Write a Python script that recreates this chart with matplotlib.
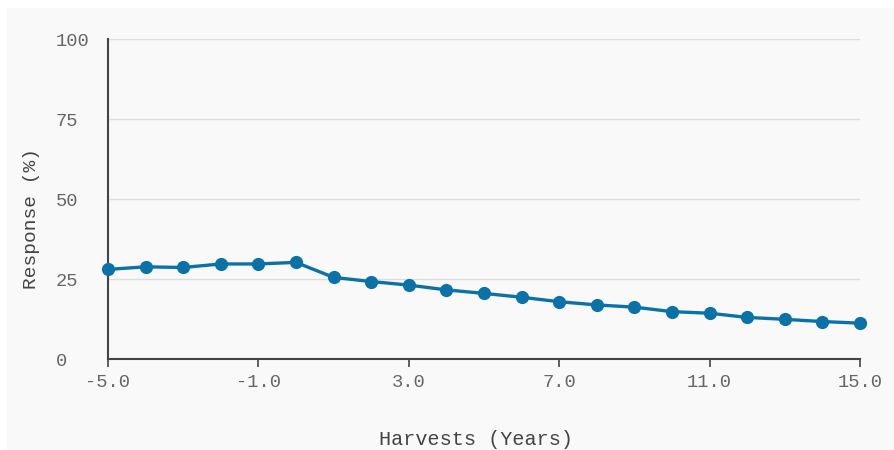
import matplotlib
matplotlib.use("Agg")
import matplotlib.pyplot as plt
from matplotlib.patches import Rectangle

# data
years = [-5, -4, -3, -2, -1, 0, 1, 2, 3, 4, 5, 6, 7, 8, 9, 10, 11, 12, 13, 14, 15]
response = [28.0, 28.8, 28.6, 29.7, 29.7, 30.2, 25.5, 24.2, 23.1, 21.6, 20.5,
            19.3, 17.9, 16.9, 16.2, 14.8, 14.3, 13.0, 12.4, 11.7, 11.2]
x_ticks = [-5, -1, 3, 7, 11, 15]
y_ticks = [0, 25, 50, 75, 100]

line_color = "#0b72a8"
text_color = "#666666"
mono = ["Liberation Mono", "DejaVu Sans Mono"]

fig = plt.figure(figsize=(8.94, 4.5), dpi=100)
fig.patch.set_facecolor("#f9f9f9")
# white margin strips at the left and top, outside the axes
fig.patches.append(Rectangle((0, 0), 7 / 894, 1, transform=fig.transFigure,
                             facecolor="white", edgecolor="none"))
fig.patches.append(Rectangle((0, 442 / 450), 1, 8 / 450, transform=fig.transFigure,
                             facecolor="white", edgecolor="none"))

ax = fig.add_axes([108 / 894, 91 / 450, 752 / 894, 320 / 450])
ax.set_facecolor("none")

ax.plot(years, response, color=line_color, linewidth=2.4, marker="o",
        markersize=9.5, markeredgewidth=0, zorder=3, clip_on=False)

ax.set_xlim(-5, 15)
ax.set_ylim(0, 100)
ax.set_xticks(x_ticks)
ax.set_xticklabels([f"{t:.1f}" for t in x_ticks])
ax.set_yticks(y_ticks)

ax.grid(axis="y", color="#dddddd", linewidth=1)
ax.set_axisbelow(True)

for s in ["top", "right"]:
    ax.spines[s].set_visible(False)
for s in ["left", "bottom"]:
    ax.spines[s].set_color("#444444")
    ax.spines[s].set_linewidth(1.5)

ax.tick_params(axis="x", length=6, width=1.2, color="#444444", pad=5,
               labelcolor=text_color, labelsize=13.5)
# y tick labels are left aligned in the reference
ax.tick_params(axis="y", length=0, pad=37.5, labelcolor=text_color, labelsize=13.5)
for lab in ax.get_xticklabels() + ax.get_yticklabels():
    lab.set_family(mono)
for lab in ax.get_yticklabels():
    lab.set_horizontalalignment("left")

ax.set_xlabel("Harvests (Years)", family=mono, color="#444444", fontsize=14.5)
ax.xaxis.set_label_coords(0.489, -0.222)
ax.set_ylabel("Response (%)", family=mono, color="#444444", fontsize=14)
ax.yaxis.set_label_coords(-0.09, 0.44)

fig.savefig("out.png", dpi=100, facecolor=fig.get_facecolor())
